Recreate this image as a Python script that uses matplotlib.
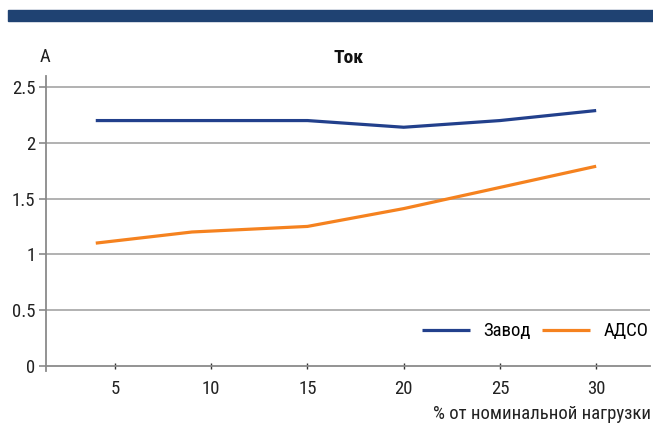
import matplotlib
matplotlib.use("Agg")
import matplotlib.pyplot as plt
from matplotlib import font_manager
from matplotlib.patches import Rectangle

# pick a narrow font if one is installed
fonts = font_manager.fontManager.ttflist
names = {f.name for f in fonts}
family, stretch = "Roboto", "normal"
for cand in ["Liberation Sans Narrow", "Roboto Condensed", "Open Sans Condensed"]:
    if cand in names:
        family = cand
        break
else:
    if any(f.name == "DejaVu Sans" and f.stretch == "condensed" for f in fonts):
        family, stretch = "DejaVu Sans", "condensed"
plt.rcParams["font.family"] = [family, "DejaVu Sans"]
plt.rcParams["font.stretch"] = stretch

# data
load_pct = [4, 9, 15, 20, 25, 30]
zavod = [2.2, 2.2, 2.2, 2.14, 2.2, 2.29]
adso = [1.1, 1.2, 1.25, 1.41, 1.6, 1.79]
x_ticks = [5, 10, 15, 20, 25, 30]
y_ticks = [0, 0.5, 1, 1.5, 2, 2.5]
y_tick_labels = ["0", "0.5", "1", "1.5", "2", "2.5"]

blue = "#22408c"
orange = "#f5821f"
grid_col = "#ababab"
axis_col = "#8a8a8a"
fs = 13.5

fig = plt.figure(figsize=(6.53, 4.25), dpi=100)

# dark band on top
fig.patches.append(Rectangle((8 / 653, 1 - 21 / 425), 645 / 653, 11 / 425,
                             transform=fig.transFigure, color="#1f4272", zorder=0))

ax = fig.add_axes([0.0712, 0.1264, 0.9243, 0.6948])
ax.plot(load_pct, zavod, color=blue, linewidth=2.3, label="Завод", solid_capstyle="butt")
ax.plot(load_pct, adso, color=orange, linewidth=2.3, label="АДСО", solid_capstyle="butt")

ax.set_xlim(1.44, 32.8)
ax.set_ylim(-0.05, 2.6)
ax.set_xticks(x_ticks)
ax.set_yticks(y_ticks)
ax.set_yticklabels(y_tick_labels)

for y in y_ticks[1:]:
    ax.axhline(y, color=grid_col, linewidth=1.3, zorder=0)

for s in ["top", "right"]:
    ax.spines[s].set_visible(False)
ax.spines["bottom"].set_position(("data", 0))
for s in ["bottom", "left"]:
    ax.spines[s].set_color(axis_col)
    ax.spines[s].set_linewidth(1.3)

ax.tick_params(axis="y", direction="out", length=5, color=axis_col, width=1.2,
               labelsize=fs, pad=3, labelcolor="#222222")
ax.tick_params(axis="x", direction="inout", length=5, color="#333333", width=1,
               labelsize=fs, pad=8, labelcolor="#222222")

ax.text(0.5, 1.03, "Ток", transform=ax.transAxes, ha="center", va="bottom",
        fontsize=14, fontweight="heavy", color="#111111")
fig.text(40 / 653, 1 - 57 / 425, "A", ha="left", va="center", fontsize=fs, color="#222222")
fig.text(651 / 653, 1 - 414 / 425, "% от номинальной нагрузки", ha="right", va="center",
         fontsize=fs, color="#222222")

ax.legend(loc="center right", bbox_to_anchor=(0.997, 0.136), frameon=False, ncol=2,
          fontsize=fs, handlelength=2.56, columnspacing=0.64, handletextpad=0.7,
          borderaxespad=0.0, borderpad=0.0)

fig.savefig("out.png", dpi=100)
